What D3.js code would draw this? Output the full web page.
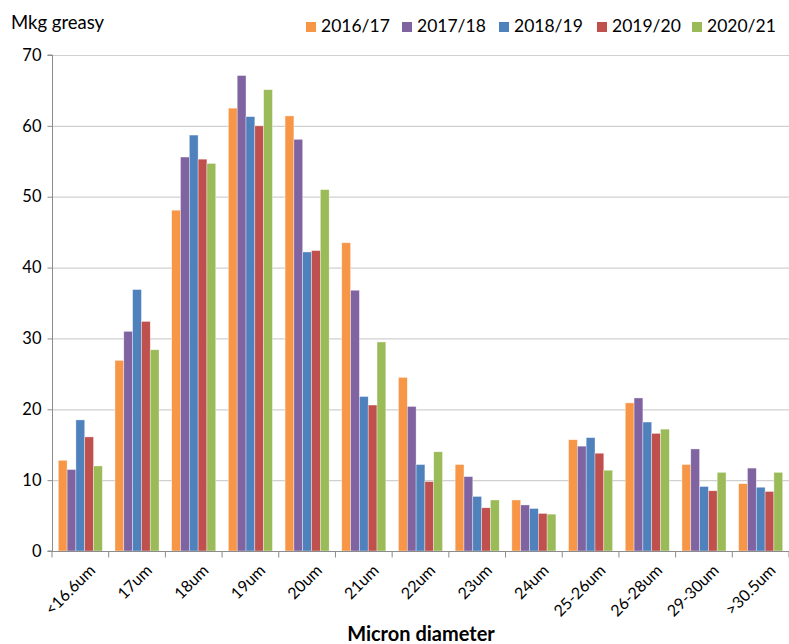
<!DOCTYPE html>
<html><head><meta charset="utf-8">
<script src="https://cdn.jsdelivr.net/npm/d3@7"></script>
<style>body{margin:0;background:#fff}svg{display:block}text{font-family:Lato,"Open Sans",sans-serif}</style>
</head><body><svg id="c" width="789" height="644"></svg>
<script>
const categories = ["<16.6um","17um","18um","19um","20um","21um","22um","23um","24um","25-26um","26-28um","29-30um",">30.5um"];
const seriesNames = ["2016/17","2017/18","2018/19","2019/20","2020/21"];
const s2016 = [12.8,26.9,48.1,62.5,61.4,43.5,24.5,12.2,7.2,15.7,20.9,12.2,9.5];
const s2017 = [11.5,31.0,55.6,67.1,58.1,36.8,20.4,10.5,6.5,14.8,21.6,14.4,11.7];
const s2018 = [18.5,36.9,58.7,61.3,42.2,21.8,12.2,7.7,6.0,16.0,18.2,9.1,9.0];
const s2019 = [16.1,32.4,55.3,60.0,42.4,20.6,9.8,6.1,5.3,13.8,16.6,8.5,8.4];
const s2020 = [12.0,28.4,54.7,65.1,51.0,29.5,14.0,7.2,5.2,11.4,17.2,11.1,11.1];
const yTicks = [0,10,20,30,40,50,60,70];
const colors = ["#F79646","#8064A2","#4F81BD","#C0504D","#9BBB59"];
const seriesValues = [s2016,s2017,s2018,s2019,s2020];

const svg = d3.select("#c");
const L = 52, R = 789, T = 55, B = 551;
const x = d3.scaleBand().domain(categories).range([L, R]).paddingInner(0.223).paddingOuter(0.111);
const x1 = d3.scaleBand().domain(seriesNames).range([0, x.bandwidth()]);
const y = d3.scaleLinear().domain([0,70]).range([B, T]);

// gridlines
svg.append("g").selectAll("line").data(yTicks.filter(d=>d>0)).join("line")
  .attr("x1", L).attr("x2", R).attr("y1", d=>y(d)+0.5).attr("y2", d=>y(d)+0.5)
  .attr("stroke", "#d0d0d0").attr("stroke-width", 1.2);

// bars
const g = svg.append("g");
seriesNames.forEach((s, i) => {
  g.append("g").selectAll("rect").data(categories).join("rect")
    .attr("x", c => x(c) + x1(s))
    .attr("y", (c, j) => y(seriesValues[i][j]))
    .attr("width", x1.bandwidth())
    .attr("height", (c, j) => B - y(seriesValues[i][j]))
    .attr("fill", colors[i])
    .attr("stroke", "#fff").attr("stroke-opacity", 0.6).attr("stroke-width", 0.6);
});

// y axis
const ya = svg.append("g").attr("transform", `translate(${L+0.5},0)`)
  .call(d3.axisLeft(y).tickValues(yTicks).tickSize(5).tickPadding(6));
ya.select(".domain").attr("stroke", "#8c8c8c").attr("d", `M-5,${B}H0V${T}H-5`);
ya.selectAll(".tick line").attr("stroke", "#8c8c8c");
ya.selectAll(".tick text").attr("font-size", 16.5).attr("fill", "#000").attr("font-family","Lato");

// x axis
const step = (R - L) / categories.length;
const xa = svg.append("g").attr("transform", `translate(0,${B+0.5})`);
xa.append("line").attr("x1", L).attr("x2", R).attr("stroke", "#8c8c8c");
xa.selectAll("line.tk").data(d3.range(categories.length + 1)).join("line")
  .attr("class","tk").attr("x1", i => L + i*step).attr("x2", i => L + i*step)
  .attr("y1", 0).attr("y2", 6).attr("stroke", "#8c8c8c");
xa.selectAll("text").data(categories).join("text")
  .attr("transform", c => `translate(${x(c) + x.bandwidth()/2 + 8},12) rotate(-45)`)
  .attr("text-anchor", "end").attr("dy", "0.7em")
  .attr("font-size", 16).text(c => c);

// titles
svg.append("text").attr("x", 11).attr("y", 29).attr("font-size", 18.5).text("Mkg greasy");
svg.append("text").attr("x", 421).attr("y", 641).attr("text-anchor", "middle")
  .attr("font-size", 20).attr("font-weight", "bold").text("Micron diameter");

// legend
const legX = [306, 402, 499, 597, 692];
const lg = svg.append("g");
seriesNames.forEach((s, i) => {
  lg.append("rect").attr("x", legX[i]).attr("y", 22).attr("width", 10).attr("height", 10).attr("fill", colors[i]);
  lg.append("text").attr("x", legX[i] + 15).attr("y", 32).attr("font-size", 17.5).text(s);
});
</script></body></html>
